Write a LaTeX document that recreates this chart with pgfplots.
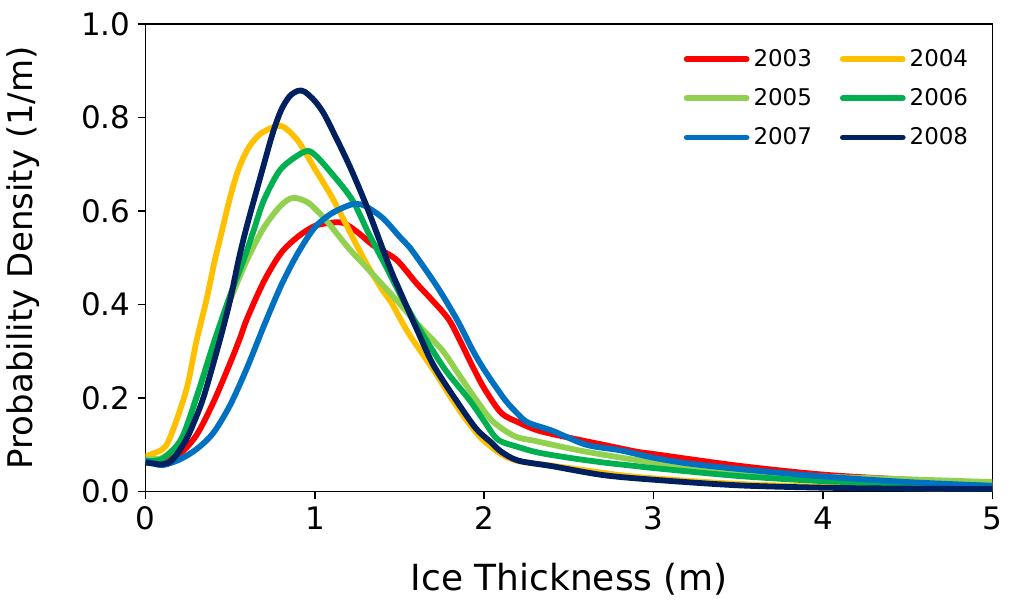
\documentclass[border=0pt]{standalone}
\usepackage{fontspec}
\setmainfont{DejaVu Sans}
\usepackage{pgfplots}
\pgfplotsset{compat=1.18}

\definecolor{c2003}{RGB}{255,0,0}
\definecolor{c2004}{RGB}{255,192,0}
\definecolor{c2005}{RGB}{146,208,80}
\definecolor{c2006}{RGB}{0,176,80}
\definecolor{c2007}{RGB}{0,112,192}
\definecolor{c2008}{RGB}{0,32,96}

\begin{document}
\begin{tikzpicture}
\begin{axis}[
  scale only axis,
  width=424pt, height=234pt,
  xmin=0, xmax=5, ymin=0, ymax=1,
  xtick={0,1,2,3,4,5},
  ytick={0,0.2,0.4,0.6,0.8,1.0},
  yticklabel style={/pgf/number format/.cd, fixed, fixed zerofill, precision=1},
  /pgf/number format/assume math mode=true,
  tick align=outside, tick pos=left,
  major tick length=4pt,
  axis line style={line width=0.8pt},
  every tick/.style={line width=0.8pt, black},
  ticklabel style={font=\fontsize{15.5}{18}\selectfont},
  xlabel={Ice Thickness (m)}, ylabel={Probability Density (1/m)},
  xlabel style={yshift=-10pt, font=\fontsize{18}{21}\selectfont},
  ylabel style={yshift=14pt, font=\fontsize{17}{21}\selectfont},
  legend columns=2,
  legend cell align=left,
  legend style={draw=none, fill=none, at={(1,1)}, anchor=north east,
    xshift=-7pt, yshift=-8.5pt,
    font=\fontsize{11.5}{14}\selectfont,
    row sep=5.5pt,
    nodes={inner xsep=2pt},
    /tikz/every even column/.append style={column sep=12pt}},
  legend image code/.code={\draw[#1, line cap=round] (0pt,0pt) -- (30pt,0pt);},
  every axis plot/.append style={line width=2.9pt, smooth, tension=0.5, line join=round},
  after end axis/.code={\path (rel axis cs:0,1) ++(0pt,12pt);},
]
\addplot[c2003] coordinates {
(0,0.07) (0.1,0.068) (0.2,0.08) (0.3,0.12) (0.4,0.19) (0.5,0.275) (0.56,0.33)
(0.6,0.37) (0.7,0.45) (0.8,0.51) (0.9,0.545) (1.0,0.568) (1.1,0.575) (1.17,0.574)
(1.25,0.555) (1.35,0.525) (1.48,0.496) (1.6,0.445) (1.69,0.41) (1.79,0.368)
(1.86,0.32) (1.93,0.268) (2.0,0.22) (2.1,0.168) (2.2,0.148) (2.32,0.13)
(2.5,0.115) (2.7,0.1) (2.9,0.085) (3.0,0.08) (3.5,0.055) (4.0,0.036) (4.5,0.025) (5.0,0.015)};
\addlegendentry{2003}
\addplot[c2004] coordinates {
(0,0.075) (0.1,0.09) (0.14,0.111) (0.2,0.17) (0.25,0.23) (0.3,0.32) (0.36,0.41)
(0.41,0.496) (0.44,0.54) (0.5,0.63) (0.55,0.69) (0.6,0.73) (0.65,0.755) (0.7,0.77)
(0.8,0.782) (0.9,0.75) (1.0,0.69) (1.1,0.63) (1.2,0.56) (1.3,0.49) (1.4,0.43) (1.45,0.405)
(1.55,0.34) (1.7,0.26) (1.81,0.197) (1.9,0.15) (1.99,0.111) (2.1,0.08) (2.2,0.065)
(2.4,0.055) (2.6,0.045) (2.8,0.035) (3.0,0.028) (3.5,0.016) (4.0,0.01) (4.5,0.007) (5.0,0.005)};
\addlegendentry{2004}
\addplot[c2005] coordinates {
(0,0.07) (0.1,0.072) (0.21,0.111) (0.3,0.2) (0.41,0.325) (0.5,0.41) (0.6,0.496)
(0.7,0.565) (0.8,0.612) (0.87,0.628) (0.95,0.62) (1.0,0.605) (1.08,0.574) (1.2,0.52)
(1.3,0.481) (1.48,0.41) (1.6,0.36) (1.75,0.303) (1.85,0.25) (1.95,0.197) (2.05,0.15)
(2.18,0.118) (2.3,0.108) (2.6,0.085) (3.0,0.062) (3.5,0.043) (4.0,0.032) (4.5,0.026) (5.0,0.02)};
\addlegendentry{2005}
\addplot[c2006] coordinates {
(0,0.065) (0.1,0.07) (0.21,0.111) (0.3,0.2) (0.41,0.325) (0.5,0.42) (0.58,0.496)
(0.64,0.56) (0.7,0.624) (0.8,0.69) (0.94,0.727) (1.0,0.72) (1.1,0.68) (1.22,0.624)
(1.32,0.55) (1.42,0.481) (1.52,0.41) (1.63,0.34) (1.77,0.26) (1.91,0.197) (2.0,0.15)
(2.08,0.111) (2.2,0.095) (2.32,0.083) (2.5,0.072) (2.7,0.062) (2.9,0.054) (3.0,0.05)
(3.5,0.033) (4.0,0.022) (4.5,0.016) (5.0,0.012)};
\addlegendentry{2006}
\addplot[c2007] coordinates {
(0,0.065) (0.05,0.06) (0.1,0.056) (0.2,0.068) (0.3,0.09) (0.4,0.125) (0.5,0.185)
(0.6,0.265) (0.7,0.355) (0.8,0.44) (0.9,0.51) (1.0,0.565) (1.1,0.595) (1.2,0.612)
(1.25,0.615) (1.3,0.61) (1.4,0.585) (1.5,0.545) (1.57,0.517) (1.7,0.45) (1.77,0.41)
(1.85,0.36) (1.93,0.303) (2.0,0.26) (2.12,0.197) (2.2,0.165) (2.26,0.147) (2.4,0.13)
(2.6,0.1) (2.8,0.088) (3.0,0.072) (3.2,0.06) (3.5,0.048) (4.0,0.032) (4.5,0.02) (5.0,0.012)};
\addlegendentry{2007}
\addplot[c2008] coordinates {
(0,0.062) (0.1,0.058) (0.16,0.068) (0.24,0.111) (0.3,0.16) (0.35,0.21) (0.44,0.325)
(0.5,0.41) (0.55,0.496) (0.6,0.57) (0.69,0.688) (0.75,0.765) (0.8,0.815) (0.85,0.845)
(0.9,0.857) (0.94,0.855) (1.0,0.835) (1.05,0.81) (1.1,0.775) (1.2,0.7) (1.3,0.615)
(1.44,0.481) (1.5,0.43) (1.61,0.34) (1.7,0.27) (1.83,0.197) (1.95,0.135) (2.04,0.105)
(2.1,0.085) (2.2,0.066) (2.4,0.054) (2.7,0.035) (3.0,0.025) (3.5,0.013) (4.0,0.008) (4.5,0.006) (5.0,0.005)};
\addlegendentry{2008}
\end{axis}
\end{tikzpicture}
\end{document}
